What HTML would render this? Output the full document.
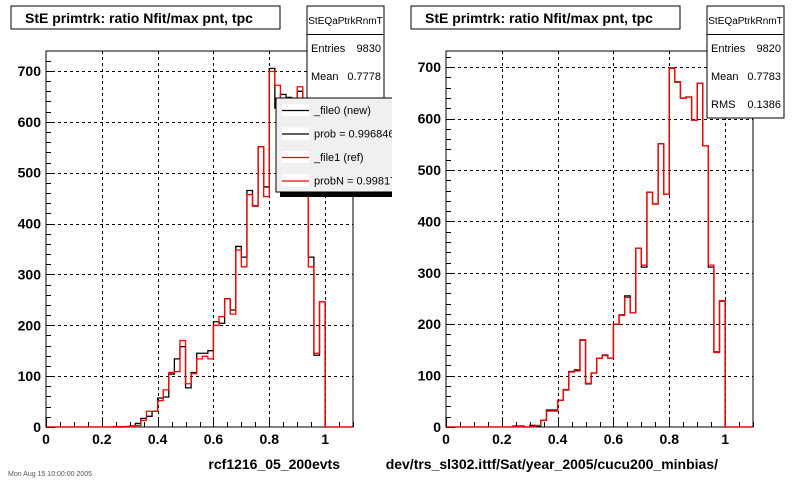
<!DOCTYPE html>
<html><head><meta charset="utf-8"><style>
body{margin:0;background:#fff;width:800px;height:480px;overflow:hidden;font-family:"Liberation Sans",sans-serif}
svg text{font-family:"Liberation Sans",sans-serif}
</style></head><body>
<svg id="s" width="800" height="480" xmlns="http://www.w3.org/2000/svg">
<defs><clipPath id="lgclip"><rect x="270" y="90" width="122" height="115"/></clipPath></defs>
</svg>
<script>
// bins of width 0.02, starting at 0.24
const binStart = 0.24;
const binWidth = 0.02;
const refValues = [1,1,0,1,3,13,31,31,52,73,107,109,170,85,105,134,139,134,200,217,252,222,348,315,457,434,551,453,699,672,640,642,597,669,547,315,145,246];
const newLeftValues = [0,0,1,2,7,17,21,31,57,59,104,134,158,77,107,145,145,150,207,204,252,230,355,334,465,435,551,472,705,627,654,648,600,660,540,334,141,246];
const newRightValues = [2,2,0,3,1,13,33,33,52,72,108,111,169,84,105,134,140,134,200,218,255,222,348,311,457,434,551,453,698,671,640,642,597,669,547,311,146,245];
const xTicks = ["0","0.2","0.4","0.6","0.8","1"];
const yTicks = ["0","100","200","300","400","500","600","700"];

const S = document.getElementById('s');
const NS = 'http://www.w3.org/2000/svg';
function mk(tag, attrs, parent){const e=document.createElementNS(NS,tag);for(const k in attrs)e.setAttribute(k,attrs[k]);(parent||S).appendChild(e);return e;}

function panel(p){
  const g = mk('g',{});
  
  
  const X = v => p.x0 + v*(p.x1-p.x0)/1.1;
  const Y = v => p.y0 - v*p.py;
  const fr = mk('rect',{x:p.x0,y:p.yt,width:p.x1-p.x0,height:p.y0-p.yt,fill:'none',stroke:'#000','stroke-width':1},g);
  
  
  for(let i=1;i<=5;i++){const gx=Math.round(X(i*0.2))+0.5;const l=mk('line',{x1:gx,x2:gx,y1:p.yt,y2:p.y0,stroke:'#000','stroke-dasharray':'3,3'},g);
    
    }
  for(let i=1;i<=7;i++){const gy=Math.round(Y(i*100))+0.5;const l=mk('line',{x1:p.x0,x2:p.x1,y1:gy,y2:gy,stroke:'#000','stroke-dasharray':'3,3'},g);
    
    }
  for(let i=0;i<=22;i++){const tx=Math.round(X(i*0.05))+0.5;const len=i%4==0?9:5;mk('line',{x1:tx,x2:tx,y1:p.y0,y2:p.y0-len,stroke:'#000'},g);}
  for(let v=0;v*p.py<=p.y0-p.yt;v+=20){const ty=Math.round(Y(v))+0.5;const len=v%100==0?9:5;mk('line',{x1:p.x0,x2:p.x0+len,y1:ty,y2:ty,stroke:'#000'},g);}
  xTicks.forEach((t,i)=>{const e=mk('text',{x:X(i*0.2),y:p.y0+17,'text-anchor':'middle','font-size':14,'font-weight':'bold'},g);e.textContent=t;
    
    });
  yTicks.forEach((t,i)=>{const e=mk('text',{x:p.x0-5,y:Y(i*100)+5,'text-anchor':'end','font-size':14,'font-weight':'bold'},g);e.textContent=t;
    
    });
  function hist(vals,color,name){
    let d='M'+X(0)+','+Y(0)+' L'+X(binStart)+','+Y(0);
    vals.forEach((v,i)=>{const a=X(binStart+i*binWidth),b=X(binStart+(i+1)*binWidth);d+=' L'+a+','+Y(v)+' L'+b+','+Y(v);});
    const end=binStart+vals.length*binWidth;
    d+=' L'+X(end)+','+Y(0)+' L'+X(1.1)+','+Y(0);
    const e=mk('path',{d:d,fill:'none',stroke:color,'stroke-width':1.3},g);
    
    
  }
  hist(p.black,'#000','new-histogram');
  hist(refValues,'#f00','ref-histogram');
  const tb=mk('rect',{x:p.tx,y:6,width:269,height:23,fill:'#fff',stroke:'#000'},g);
  
  
  const tt=mk('text',{x:p.tx+14,y:23,'font-size':14,'font-weight':'bold'},g);tt.textContent='StE primtrk: ratio Nfit/max pnt, tpc';
  
  
  const sb=mk('rect',{x:p.sx,y:6,width:77,height:p.sh,fill:'#fff',stroke:'#000'},g);
  
  
  mk('line',{x1:p.sx,x2:p.sx+77,y1:34.5,y2:34.5,stroke:'#000'},g);
  const sn=mk('text',{x:p.sx+38.5,y:24,'text-anchor':'middle','font-size':10},g);sn.textContent='StEQaPtrkRnmT';
  p.stats.forEach((r,i)=>{const a=mk('text',{x:p.sx+4,y:52+i*28,'font-size':11},g);a.textContent=r[0];
    const b=mk('text',{x:p.sx+74,y:52+i*28,'font-size':11,'text-anchor':'end'},g);b.textContent=r[1];});
  const xt=mk('text',{x:p.xtx,y:469,'text-anchor':'end','font-size':14,'font-weight':'bold'},g);xt.textContent=p.xtitle;
  
  
}
panel({name:'left-panel',x0:46,x1:353,y0:427,yt:51,py:0.5086,black:newLeftValues,tx:11,sx:307,sh:112,
  stats:[['Entries','9830'],['Mean','0.7778'],['RMS','0.1390']],xtitle:'rcf1216_05_200evts',xtx:340});
panel({name:'right-panel',x0:446,x1:753,y0:427,yt:51,py:0.514,black:newRightValues,tx:411,sx:707,sh:112,
  stats:[['Entries','9820'],['Mean','0.7783'],['RMS','0.1386']],xtitle:'dev/trs_sl302.ittf/Sat/year_2005/cucu200_minbias/',xtx:718});

const lg=mk('g',{'clip-path':'url(#lgclip)'});


mk('rect',{x:280,y:102,width:120,height:95,fill:'#000'},lg);
mk('rect',{x:276,y:98,width:124,height:94,fill:'#f0f0f0',stroke:'#000'},lg);
const entries=[['_file0 (new)','#000'],['prob = 0.996846','#000'],['_file1 (ref)','#f00'],['probN = 0.998176','#f00']];
entries.forEach((en,i)=>{const y=110+i*23.5;
  mk('rect',{x:282,y:y-6,width:27,height:12,fill:'#fff'},lg);
  mk('line',{x1:282,x2:309,y1:y+0.5,y2:y+0.5,stroke:en[1],'stroke-width':1.2},lg);
  const t=mk('text',{x:314,y:y+4,'font-size':11},lg);t.textContent=en[0];
  
  });
const ft=mk('text',{x:8,y:476,'font-size':7,fill:'#555'},S);ft.textContent='Mon Aug 15 10:00:00 2005';


</script>
</body></html>
